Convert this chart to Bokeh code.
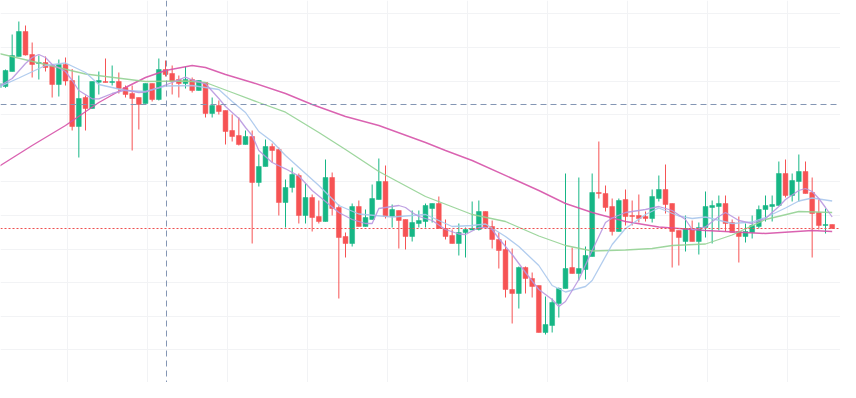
from bokeh.plotting import figure
from bokeh.models import Range1d, Grid, FixedTicker, ColumnDataSource, Span
from bokeh.embed import file_html
from bokeh.resources import INLINE

# OHLC values (price units)
opens = [313, 314, 329, 344, 369, 346, 337, 338, 335, 316,
         336, 320, 274, 303, 292, 318.3, 319, 318, 319, 313,
         307, 303, 297, 317, 301, 331, 327, 321, 317, 321,
         310, 318, 287, 295, 290, 270, 265, 256, 264, 218,
         234, 254, 251, 198, 213, 225, 185, 203, 184, 179,
         223, 193, 164, 157, 194, 174, 181, 201, 219, 184,
         190, 181, 164, 177, 179, 192, 197, 172, 165, 157,
         168, 170.5, 171, 189, 174, 161, 151, 111, 107, 133,
         122, 115, 68, 75, 97, 112, 133, 127, 131, 144,
         208, 207, 194, 169, 201, 185, 185, 184, 182, 202,
         211, 197, 170, 159, 172, 159, 173, 193, 194, 197,
         178, 169, 164, 168, 174, 191, 194, 195, 227, 205,
         219, 229, 208, 188, 175, 176]
highs = [318, 331, 366, 379, 375, 358, 345, 344, 335, 341,
         343, 331.5, 325, 305, 319, 329, 342, 335, 328, 315,
         315, 303, 317, 317, 342, 340, 335, 325, 334, 323,
         320, 318, 303, 300, 290, 286, 283, 270, 270, 246,
         261, 257, 253, 221, 233, 227, 217, 206, 200, 241,
         228, 196, 168, 197, 200, 191, 216, 242, 235, 196,
         190, 181, 190, 190, 197, 197, 204, 181, 171, 177,
         173, 199, 200, 189, 180, 168, 160, 152, 134, 134,
         128, 115, 104, 102, 113, 227, 153, 223, 154, 227,
         259, 215, 202, 202, 211, 200, 206, 189, 211, 225,
         236, 197, 170, 185, 180, 178, 209, 200, 205, 205,
         181, 184, 177, 185, 195, 205, 205, 239, 241, 227,
         246, 239, 223, 201, 192, 176]
lows = [312, 312.7, 329, 344, 345, 323, 321, 329, 303, 304,
        315, 270, 243, 270, 292, 306, 318, 315, 307, 303,
        250, 271, 297, 299, 300, 324, 306, 303, 312, 308,
        310, 283, 283, 286, 256, 259, 255, 256, 157, 214,
        234, 238, 185, 173, 208, 177, 177, 169, 177, 179,
        185, 102, 143, 154, 174, 174, 181, 201, 182, 173,
        152, 151, 159, 173, 173, 178, 172, 161, 157, 145,
        143, 170.5, 170, 173, 152, 132, 103, 77, 92, 107,
        103, 68, 66, 68, 83, 112, 127, 120, 121, 144,
        202, 189, 165, 169, 175, 175, 178, 179, 178, 199,
        187, 133, 135, 149, 159, 146, 163, 157, 170, 169,
        168, 138, 158, 162, 172, 179, 179, 195, 203, 199,
        199, 207, 143, 171, 167, 172]
closes = [317, 330, 345, 369, 345.5, 336, 338, 333, 316, 336,
          319.5, 274, 302, 292, 319, 320, 318, 319, 312, 306,
          302, 296, 317, 301, 331, 326, 319, 317, 321, 310,
          320, 287, 295, 289, 269, 264, 256, 264, 218, 234,
          254, 250, 198, 213, 226, 185, 203, 183, 179, 223,
          192, 163, 157, 194, 174, 183, 202, 219, 184, 191,
          180, 164, 178, 180, 195, 197, 172, 164, 157, 168,
          171, 172, 189, 173, 161, 150, 111, 107, 133, 122,
          114, 68, 76, 98, 112, 132, 127, 132, 145, 208,
          207, 193, 169, 200, 184, 184, 182, 182, 204, 211,
          196, 169, 163, 172, 159, 173, 194, 195, 197, 177,
          168, 164, 169, 175, 191, 195, 196, 227, 205, 220,
          229, 207, 187, 175, 176, 172]

# moving averages (candle index, value)
ma5_idx = [0, 2, 4, 5, 6, 7, 8, 10, 11, 12, 14, 15, 17, 19, 21, 22, 24, 26, 28, 29,
           31, 33, 34, 36, 37, 38, 39, 41, 43, 45, 47, 49, 51, 53, 55, 56, 57, 60, 61, 62,
           63, 65, 67, 69, 70, 72, 73, 74, 75, 76, 77, 79, 81, 83, 84, 85, 87, 89, 91, 92,
           94, 97, 99, 101, 103, 104, 105, 106, 108, 109, 111, 113, 115, 117, 118, 120, 121, 122, 123, 124, 125]
ma5_val = [314, 322, 337, 343, 346, 343, 336, 329, 320, 310, 301.7, 301.7, 307, 310.5, 308, 308.3, 313, 318, 323.3, 320.5,
           316.7, 302, 294, 282, 273, 265, 250, 238, 231.7, 224.5, 210, 199, 188, 181, 177, 177, 192, 195, 193, 188,
           184, 180, 171, 166.5, 166, 173, 173, 171, 162, 154, 146, 128, 111, 101, 94, 99, 121, 150, 178, 182.5,
           188, 191, 194, 190, 181, 171, 172, 173.5, 184, 188, 180, 177, 182, 194, 201, 210, 212, 209, 202, 193, 183.5]

ma10_idx = [0, 3, 7, 10, 13, 15, 19, 22, 25, 29, 33, 35, 37, 39, 41, 43, 45, 48, 51, 54,
            59, 64, 68, 71, 73, 76, 78, 81, 83, 85, 88, 89, 92, 94, 97, 99, 102, 104, 106, 110,
            113, 115, 118, 120, 122, 125]
ma10_val = [313.5, 322.5, 335, 337.5, 328, 316, 310, 309, 314.5, 315, 311, 299, 288, 269, 259, 245, 233, 215, 195, 186.5,
            183.5, 186, 174, 175, 176.5, 164, 154, 135, 115, 108.5, 114, 120, 156, 172, 186, 192.5, 184.5, 182, 183.5, 177,
            178.5, 183, 192.5, 199.5, 202.5, 199.5]

ma30_idx = [0, 7, 13, 22, 28, 31, 35, 39, 43, 48, 52, 57, 64, 71, 76, 81, 85, 89, 94, 98,
            101, 106, 110, 115, 120, 125]
ma30_val = [347, 336, 326.5, 319, 319.5, 318, 308, 298, 288.3, 268, 251, 229, 204, 186, 179, 164.5, 155, 149.5, 150.5, 152,
            155, 156.5, 165.5, 181, 189, 188]

ma60_idx = [0, 5, 10, 15, 19, 22, 25, 29, 31, 34, 38, 43, 47, 52, 57, 64, 67, 71, 77, 81,
            85, 89, 94, 99, 106, 115, 122, 125]
ma60_val = [234, 255, 275, 298, 313, 323, 330, 335, 333, 326, 318, 307, 296, 284, 275, 258, 250, 240, 222, 210,
            197, 188, 179, 173.5, 170, 167, 170, 169]

crosshair_index = 25.15
crosshair_price = 296

x_grid = [10.25 + 12 * k for k in range(10)]
y_grid = [386.7 - 33.6 * k for k in range(12)]

UP = "#16b685"
DOWN = "#f65354"

idx = list(range(len(opens)))
colors = [UP if c >= o else DOWN for o, c in zip(opens, closes)]
src = ColumnDataSource(dict(
    x=idx, open=opens, high=highs, low=lows, close=closes,
    top=[max(o, c) for o, c in zip(opens, closes)],
    bottom=[min(o, c) for o, c in zip(opens, closes)],
    color=colors,
))

p = figure(width=840, height=382, output_backend="svg", toolbar_location=None,
           x_range=Range1d(0.25, 126.25), y_range=Range1d(18, 400),
           x_axis_type=None, y_axis_type=None, min_border=0,
           outline_line_color=None, background_fill_color="white",
           border_fill_color="white")

p.add_layout(Grid(dimension=0, ticker=FixedTicker(ticks=x_grid),
                  grid_line_color="#f2f3f5", grid_line_width=1))
p.add_layout(Grid(dimension=1, ticker=FixedTicker(ticks=y_grid),
                  grid_line_color="#f2f3f5", grid_line_width=1))

p.segment(x0="x", x1="x", y0="low", y1="high", source=src, line_color="color", line_width=1)
p.vbar(x="x", width=0.72, top="top", bottom="bottom", source=src,
       fill_color="color", line_color="color", line_width=0.5)

p.line(ma60_idx, ma60_val, line_color="#d652a8", line_width=1.4, line_alpha=0.9)
p.line(ma30_idx, ma30_val, line_color="#93d193", line_width=1.3, line_alpha=0.9)
p.line(ma10_idx, ma10_val, line_color="#a9c6ec", line_width=1.3, line_alpha=0.9)
p.line(ma5_idx, ma5_val, line_color="#b898e0", line_width=1.3, line_alpha=0.9)

p.add_layout(Span(location=closes[-1], dimension="width", line_color="#ef4f4f",
                  line_dash="2 2", line_width=1))
p.add_layout(Span(location=crosshair_index, dimension="height", line_color="#8496b4",
                  line_dash="6 4", line_width=1))
p.add_layout(Span(location=crosshair_price, dimension="width", line_color="#8496b4",
                  line_dash="6 4", line_width=1))

open("out.html", "w").write(file_html(p, INLINE))
